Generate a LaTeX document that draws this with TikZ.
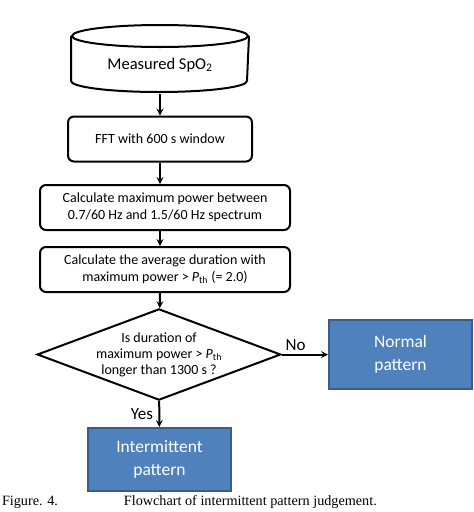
\documentclass[tikz,border=0pt]{standalone}
\usepackage{fontspec}
\setmainfont{Carlito}
\newfontfamily\capfont{Liberation Serif}
\usepackage{tikz}
\usetikzlibrary{shapes.geometric}
\usepackage{xcolor}
\definecolor{FontColor}{HTML}{000000}
\definecolor{BlueBox}{HTML}{4F81BD}
\definecolor{DarkBlueBox}{HTML}{385D8A}
\newcommand\txtspo{Measured SpO\textsubscript{2}}
\newcommand\txtfft{FFT with 600 s window}
\newcommand\txtpow{Calculate maximum power between\\0.7/60 Hz and 1.5/60 Hz spectrum}
\newcommand\txtavg{Calculate the average duration with\\maximum power > \textit{P}\textsubscript{th} (= 2.0)}
\newcommand\txtask{Is duration of\\maximum power > \textit{P}\textsubscript{th}\\longer than 1300 s ?}
\newcommand\txtnorm{Normal\\pattern}
\newcommand\txtint{Intermittent\\pattern}
\tikzstyle{wn} = [rectangle, rounded corners=6pt, draw=black, fill=white, text=FontColor, align=center, font=\fontsize{14}{17}\selectfont]
\tikzstyle{bn} = [rectangle, draw=DarkBlueBox, fill=BlueBox, text=white, align=center, font=\fontsize{17.5}{23}\selectfont]
\tikzstyle{lbl} = [font=\fontsize{17}{20}\selectfont]
\tikzset{>=stealth, every picture/.style={line width=2pt}}

\begin{document}
\begin{tikzpicture}[x=1pt, y=1pt]
\useasboundingbox (0,0) rectangle (474,-512);
\node[align=center, minimum width=176pt, minimum height=56pt, inner sep=0pt, font=\fontsize{16.5}{19}\selectfont] (spo) at (160,-65) {\txtspo};
\draw (spo.north) ellipse [x radius=88, y radius=11];
\draw (spo.north west) -- ++(0,-45) arc [start angle=180, end angle=360, x radius=88, y radius=11] -- (spo.north east);
\node[wn, minimum width=184pt, minimum height=45pt] (fft) at (160,-139) {\txtfft};
\node[wn, minimum width=250pt, minimum height=45pt] (pow) at (165,-207.5) {\txtpow};
\node[wn, minimum width=250pt, minimum height=45pt] (avg) at (165,-269.5) {\txtavg};
\node[diamond, draw, aspect=2.67, align=center, minimum width=238pt, minimum height=89pt, inner sep=0pt, font=\fontsize{14}{16}\selectfont] (ask) at (159,-354.5) {\txtask};
\node[bn, minimum width=143pt, minimum height=69pt] (norm) at (400.5,-354.5) {\txtnorm};
\node[bn, minimum width=143pt, minimum height=63pt] (int) at (159.5,-459.5) {\txtint};
\draw [->] (spo.south) -- (fft);
\draw [->] (fft) -- (fft |- pow.north);
\draw [->] (fft |- pow.south) -- (fft |- avg.north);
\draw [->] (fft |- avg.south) -- (ask);
\draw [->] (ask) -- node[lbl, above, pos=0.3] {No} (norm);
\draw [->] (ask) -- node[lbl, left, xshift=-2pt] {Yes} (int);
\node[anchor=base west, inner sep=0pt, font=\capfont\fontsize{14.2}{17}\selectfont] (cap) at (1,-505) {\makebox[122pt][l]{Figure. 4.}Flowchart of intermittent pattern judgement.};
\end{tikzpicture}
\end{document}
